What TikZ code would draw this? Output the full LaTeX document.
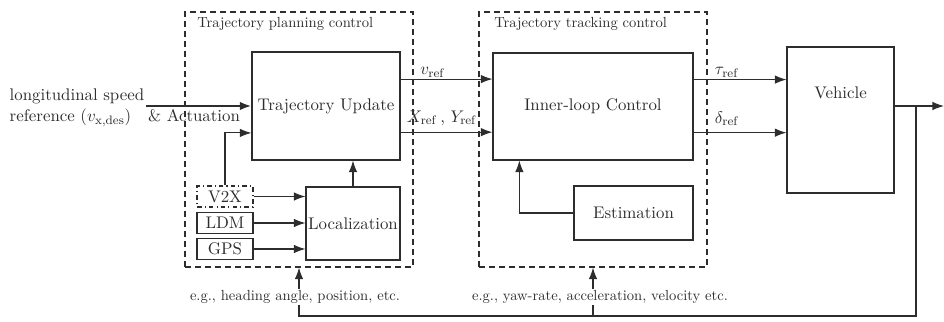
\documentclass[tikz,border=0pt,11pt]{standalone}
\usepackage{amsmath}
\usepackage{tikz}
\usetikzlibrary{arrows.meta,positioning,calc}
\definecolor{trait}{RGB}{45,45,45}
\newcommand{\px}{0.65pt}
\newcommand{\petit}{\fontsize{9.5}{11}\selectfont}

\begin{document}
\begin{tikzpicture}[x=0.65pt,y=-0.65pt,
	blk/.style={draw=trait,line width=0.7pt,inner sep=0pt,text=trait},
	grp/.style={draw=trait,line width=0.7pt,dash pattern=on 4pt off 2.5pt,inner sep=0pt},
	arr/.style={draw=trait,line width=0.7pt,-{Latex[length=7.5pt,width=5.5pt]}},
	lin/.style={draw=trait,line width=0.7pt},
	lbl/.style={text=trait,inner sep=1pt}]
	\useasboundingbox (0,0) rectangle (944,321);
	\node[grp,minimum width=228*\px,minimum height=255*\px] (plan) at (299,139.5) {};
	\node[grp,minimum width=228*\px,minimum height=255*\px] (track) at (593,139.5) {};
	\node[lbl,anchor=north west,font=\petit] (plantxt) at ($(plan.north west)+(11,4)$) {Trajectory planning control};
	\node[lbl,anchor=north west,font=\petit] (tracktxt) at ($(track.north west)+(14,4)$) {Trajectory tracking control};
	\node[blk,minimum width=148*\px,minimum height=108*\px] (traj) at (326,106) {Trajectory Update};
	\node[blk,minimum width=94*\px,minimum height=73*\px] (loc) at (353,223.5) {Localization};
	\node[blk,minimum width=56*\px,minimum height=21*\px,dash dot] (v2x) at (225,196.5) {V2X};
	\node[blk,minimum width=56*\px,minimum height=21*\px] (ldm) at (225,223) {LDM};
	\node[blk,minimum width=56*\px,minimum height=21*\px] (gps) at (225,249) {GPS};
	\node[blk,minimum width=200*\px,minimum height=107*\px] (inner) at (593,106.5) {Inner-loop Control};
	\node[blk,minimum width=119*\px,minimum height=54*\px] (est) at (633.5,213) {Estimation};
	\node[blk,minimum width=107*\px,minimum height=146*\px] (veh) at (840.5,120) {};
	\node[lbl] (vehtxt) at ($(veh.north)+(0,46)$) {Vehicle};
	\node[lbl,align=left,anchor=east] (vdes) at (146,108) {longitudinal speed\\reference ($v_{\mathrm{x,des}}$)};
	\node[lbl] (act) at (194,116) {\& Actuation};
	\draw[arr,line width=1.4pt] (vdes.east |- traj.west) -- (traj.west);
	\draw[arr] (v2x.north) |- ([yshift=-17.5pt]traj.west);
	\draw[arr] (loc.north) -- (loc.north |- traj.south);
	\draw[arr] (v2x.east) -- (v2x.east -| loc.west);
	\draw[arr] (ldm.east) -- (ldm.east -| loc.west);
	\draw[arr] (gps.east) -- (gps.east -| loc.west);
	\draw[arr] ([yshift=17.5pt]traj.east) -- ([yshift=17.5pt]traj.east -| inner.west) node[lbl,pos=0.35,above]{$v_{\mathrm{ref}}$};
	\draw[arr] ([yshift=-17pt]traj.east) -- ([yshift=-17pt]traj.east -| inner.west) node[lbl,pos=0.45,above=3pt]{$X_{\mathrm{ref}}$\,, $Y_{\mathrm{ref}}$};
	\draw[arr] ([yshift=17.5pt]inner.east) -- ([yshift=17.5pt]inner.east -| veh.west) node[lbl,pos=0.36,above]{$\tau_{\mathrm{ref}}$};
	\draw[arr] ([yshift=-17pt]inner.east) -- ([yshift=-17pt]inner.east -| veh.west) node[lbl,pos=0.36,above=3pt]{$\delta_{\mathrm{ref}}$};
	\draw[arr] (est.west) -| ([xshift=17.5pt]inner.south west);
	\coordinate (out) at (944,106);
	\coordinate (br) at (916,106);
	\coordinate (fb) at (916,316);
	\draw[arr] (veh.east |- out) -- (out);
	\node[lbl,font=\petit] (hint1) at (295,297) {e.g., heading angle, position, etc.};
	\node[lbl,font=\petit] (hint2) at (600,297) {e.g., yaw-rate, acceleration, velocity etc.};
	\draw[lin] (br) -- (fb) -- (fb -| plan.south) -- (plan.south |- hint1.south);
	\draw[arr] (plan.south |- hint1.north) -- (plan.south);
	\draw[lin] (track.south |- fb) -- (track.south |- hint2.south);
	\draw[arr] (track.south |- hint2.north) -- (track.south);
\end{tikzpicture}
\end{document}
